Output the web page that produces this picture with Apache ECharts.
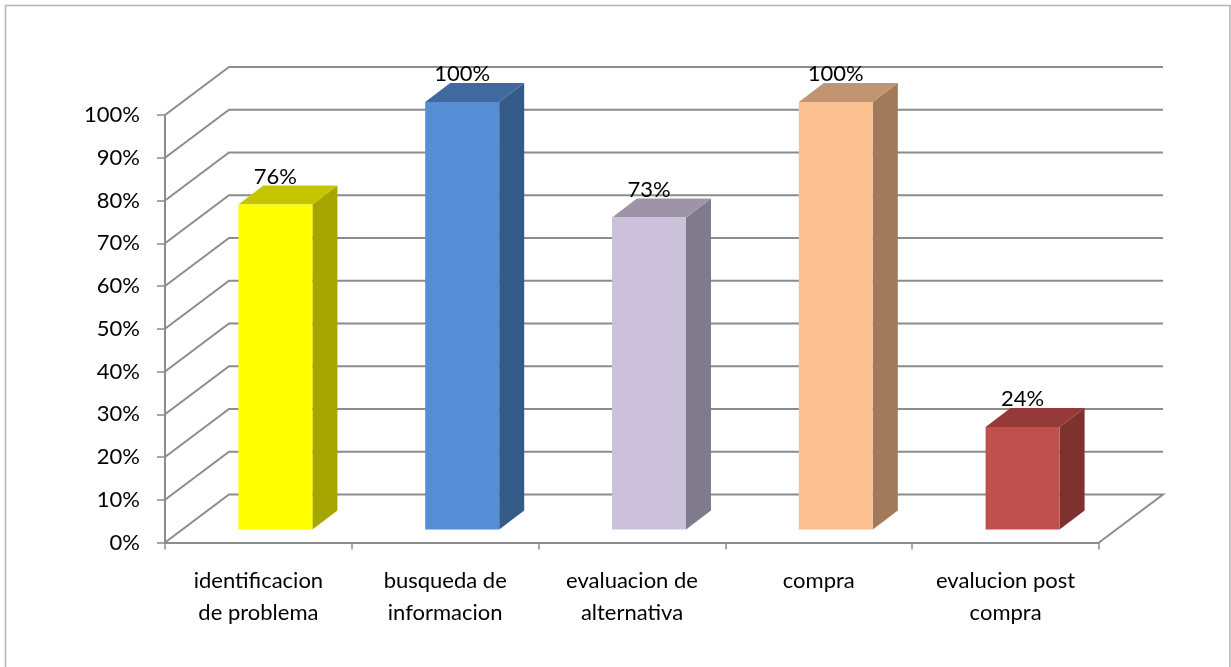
<!DOCTYPE html>
<html><head><meta charset="utf-8">
<style>html,body{margin:0;padding:0;background:#fff;overflow:hidden}#c{width:1231px;height:667px}</style>
<script src="https://cdn.jsdelivr.net/npm/echarts@6/dist/echarts.min.js"></script>
</head><body><div id="c"></div>
<script>
const categories = ["identificacion\nde problema","busqueda de\ninformacion","evaluacion de\nalternativa","compra","evalucion post\ncompra"];
const values = [76,100,73,100,24];
const gridLevels = [0,10,20,30,40,50,60,70,80,90,100];
const frontColors = ["#FFFF00","#558ED5","#CCC1DA","#FAC090","#C0504D"];
const topColors   = ["#C6C600","#4069A0","#9E94A8","#C29470","#953A38"];
const sideColors  = ["#A6A600","#345A88","#7F7A8C","#A07A5A","#7E3230"];
const FONT = "Lato";
const WALL = [64,-48], BAR_OFF = [17,-13], BAR_D = [25,-19], BAR_W = 74;
const GRID_COLOR = "#8C8C8C";

function wallItem(params, api){
  const v = api.value(0);
  const a = api.coord([0, v]);
  const w = api.getWidth ? null : null;
  const bw = api.size([1,0])[0];
  const left = a[0] - bw/2;
  const right = left + bw*categories.length;
  const y = a[1];
  const pts = [[left,y],[left+WALL[0],y+WALL[1]],[right+WALL[0],y+WALL[1]]];
  if(v===0) pts.push([right,y]);
  return {type:'polyline',shape:{points:pts},style:{fill:null,stroke:GRID_COLOR,lineWidth:2},silent:true};
}
function barItem(params, api){
  const i = params.dataIndex, cat = api.value(0), v = api.value(1);
  const top = api.coord([cat,v]), base = api.coord([cat,0]);
  const x0 = top[0]+BAR_OFF[0]-BAR_W/2, x1 = x0+BAR_W;
  const yT = top[1]+BAR_OFF[1], yB = base[1]+BAR_OFF[1];
  const dx = BAR_D[0], dy = BAR_D[1];
  return {type:'group',children:[
    {type:'polygon',shape:{points:[[x1,yT],[x1+dx,yT+dy],[x1+dx,yB+dy],[x1,yB]]},style:{fill:sideColors[i]}},
    {type:'polygon',shape:{points:[[x0,yT],[x0+dx,yT+dy],[x1+dx,yT+dy],[x1,yT]]},style:{fill:topColors[i]}},
    {type:'rect',shape:{x:x0,y:yT,width:BAR_W,height:yB-yT},style:{fill:frontColors[i]}},
    {type:'text',x:(x0+x1)/2,y:yT-28,style:{text:v+'%',fill:'#000',font:'22px '+FONT,align:'center',verticalAlign:'middle'},z2:10}
  ]};
}
const chart = echarts.init(document.getElementById('c'),null,{renderer:'canvas'});
chart.setOption({
  animation:false,
  backgroundColor:'#fff',
  graphic:[{type:'rect',silent:true,z:-1,shape:{x:5.5,y:5.5,width:1224.5,height:700},
    style:{fill:'#fff',stroke:'#B4B4B4',lineWidth:1.5}}],
  grid:{left:165,right:132,top:115,bottom:124.5,containLabel:false},
  xAxis:{type:'category',data:categories,boundaryGap:true,
    axisLine:{lineStyle:{color:GRID_COLOR,width:2}},
    axisTick:{show:true,alignWithLabel:false,length:7,lineStyle:{color:GRID_COLOR,width:1.5}},
    axisLabel:{color:'#000',fontFamily:FONT,fontSize:22,lineHeight:32,margin:22,verticalAlign:'top',interval:0},
    splitLine:{show:false}},
  yAxis:{type:'value',min:0,max:100,interval:10,
    axisLine:{show:true,lineStyle:{color:GRID_COLOR,width:2}},
    axisTick:{show:true,length:8,lineStyle:{color:GRID_COLOR,width:1.5}},
    axisLabel:{color:'#000',fontFamily:FONT,fontSize:22,margin:25,formatter:'{value}%'},
    splitLine:{show:false}},
  series:[
    {type:'custom',name:'walls',coordinateSystem:'cartesian2d',clip:false,silent:true,z:1,
     encode:{y:0},data:gridLevels.map(v=>[v]),renderItem:(p,api)=>{
        const v=api.value(0);const a=api.coord([0,v]);const bw=api.size([1,0])[0];
        const left=a[0]-bw/2,right=left+bw*categories.length,y=a[1];
        const pts=[[left,y],[left+WALL[0],y+WALL[1]],[right+WALL[0],y+WALL[1]]];
        if(v===0)pts.push([right,y]);
        return {type:'polyline',shape:{points:pts},style:{fill:null,stroke:GRID_COLOR,lineWidth:2}};
     }},
    {type:'custom',name:'bars',coordinateSystem:'cartesian2d',clip:false,z:3,
     encode:{x:0,y:1},data:values.map((v,i)=>[i,v]),renderItem:barItem}
  ]
});
</script></body></html>
